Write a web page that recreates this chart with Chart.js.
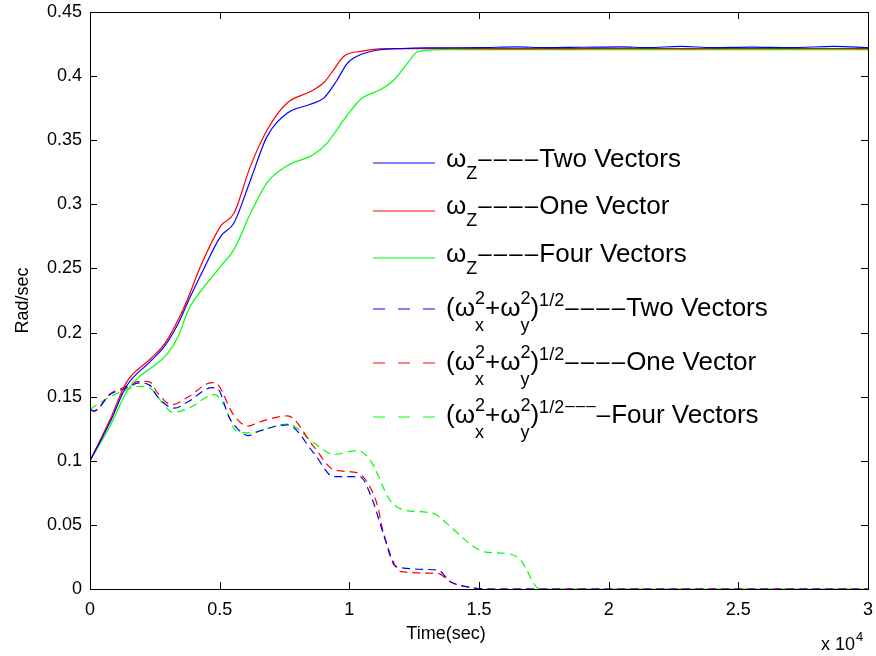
<!DOCTYPE html>
<html>
<head>
<meta charset="utf-8">
<script src="https://cdn.jsdelivr.net/npm/chart.js@4.4.1/dist/chart.umd.min.js"></script>
<style>
  html, body { margin: 0; padding: 0; background: #fff; }
  #wrap { width: 876px; height: 656px; position: relative; }
</style>
</head>
<body>
<div id="wrap"><canvas id="chart" width="876" height="656"></canvas></div>
<script>
// time in seconds, values in rad/sec
const tWzTwo = [0, 770, 1400, 2300, 2900, 3400, 3800, 4300, 5040, 5550, 6190, 6830, 7600, 8500, 9020, 9530, 9920, 10440, 11200, 12000, 13000, 15000, 16500, 17500, 19000, 20500, 21500, 22800, 24000, 25500, 27000, 28700, 30000];
const wzTwo = [0.100, 0.130, 0.158, 0.177, 0.190, 0.207, 0.225, 0.246, 0.275, 0.2855, 0.319, 0.353, 0.371, 0.378, 0.383, 0.397, 0.410, 0.4168, 0.4206, 0.4215, 0.4220, 0.4222, 0.4228, 0.4222, 0.4225, 0.4228, 0.4222, 0.4232, 0.4222, 0.4226, 0.4222, 0.4232, 0.4222];

const tWzOne = [0, 770, 1400, 2300, 2900, 3400, 3800, 4260, 5040, 5550, 6190, 6830, 7600, 8500, 9020, 9400, 9790, 10440, 11200, 14000, 17000, 20000, 23000, 26000, 30000];
const wzOne = [0.100, 0.132, 0.161, 0.179, 0.192, 0.210, 0.228, 0.2516, 0.283, 0.293, 0.330, 0.358, 0.379, 0.388, 0.395, 0.405, 0.4155, 0.4193, 0.4213, 0.4216, 0.4214, 0.4216, 0.4215, 0.4216, 0.4215];

const tWzFour = [0, 770, 1480, 3000, 3400, 3800, 4260, 5040, 5550, 6190, 6830, 7600, 8630, 9150, 9790, 10440, 11200, 11720, 12240, 12630, 13500, 16000, 19000, 22000, 25000, 30000];
const wzFour = [0.100, 0.127, 0.156, 0.184, 0.197, 0.218, 0.232, 0.2516, 0.2647, 0.293, 0.317, 0.330, 0.339, 0.348, 0.366, 0.382, 0.3895, 0.397, 0.410, 0.419, 0.4207, 0.4206, 0.4207, 0.4206, 0.4207, 0.4206];

const tWxyTwo = [0, 150, 770, 1400, 1900, 2300, 2600, 3250, 3800, 4700, 4950, 5350, 5600, 6100, 6500, 7620, 8630, 9400, 10400, 10900, 11300, 11800, 13400, 13900, 14800, 15200, 30000];
const wxyTwo = [0.140, 0.1386, 0.1516, 0.1568, 0.1607, 0.159, 0.150, 0.141, 0.1463, 0.157, 0.1555, 0.1346, 0.127, 0.1196, 0.123, 0.128, 0.106, 0.0876, 0.0876, 0.069, 0.0437, 0.0174, 0.0148, 0.0057, 0.0008, 0, 0];

const tWxyOne = [0, 150, 770, 1400, 1900, 2300, 2600, 3150, 3800, 4700, 4950, 5500, 6100, 6500, 7620, 8630, 9400, 10300, 10700, 11100, 11300, 12000, 13400, 13900, 14800, 15200, 30000];
const wxyOne = [0.140, 0.139, 0.152, 0.158, 0.162, 0.1615, 0.153, 0.1437, 0.150, 0.161, 0.159, 0.137, 0.127, 0.130, 0.135, 0.111, 0.093, 0.0907, 0.083, 0.064, 0.045, 0.0135, 0.0122, 0.0055, 0.0008, 0, 0];

const tWxyFour = [0, 770, 1230, 1900, 2300, 2760, 3200, 3800, 4800, 5200, 5600, 6100, 7620, 8630, 9400, 10300, 10800, 11580, 12100, 13250, 13600, 14800, 15200, 16200, 16600, 17350, 30000];
const wxyFour = [0.140, 0.150, 0.154, 0.158, 0.1568, 0.146, 0.1378, 0.141, 0.1516, 0.1425, 0.124, 0.1217, 0.1287, 0.114, 0.105, 0.108, 0.1006, 0.069, 0.0616, 0.059, 0.0538, 0.033, 0.029, 0.0273, 0.0226, 0, 0];

const xTicks = [0, 0.5, 1, 1.5, 2, 2.5, 3];
const yTicks = ['0', '0.05', '0.1', '0.15', '0.2', '0.25', '0.3', '0.35', '0.4', '0.45'];

// rich legend text: plain, sub, sup, stacked sup/sub, or a run of dashes (d)
const wxy = [{ t: '(ω' }, { sup: '2', sub: 'x' }, { t: '+ω' }, { sup: '2', sub: 'y' }, { t: ')' }];
const legendRows = [
  [{ t: 'ω' }, { sub: 'Z' }, { d: 4 }, { t: 'Two Vectors' }],
  [{ t: 'ω' }, { sub: 'Z' }, { d: 4 }, { t: 'One Vector' }],
  [{ t: 'ω' }, { sub: 'Z' }, { d: 4 }, { t: 'Four Vectors' }],
  wxy.concat([{ sup: '1/2' }, { d: 4 }, { t: 'Two Vectors' }]),
  wxy.concat([{ sup: '1/2' }, { d: 4 }, { t: 'One Vector' }]),
  wxy.concat([{ sup: '1/2' }, { sd: 3 }, { d: 1 }, { t: 'Four Vectors' }])
];

const FONT = '"Liberation Sans", Arial, Helvetica, sans-serif';

function pts(ts, vs) {
  return ts.map((t, i) => ({ x: t, y: vs[i] }));
}

function line(label, ts, vs, color, dashed) {
  return {
    label: label,
    data: pts(ts, vs),
    borderColor: color,
    borderWidth: 1.2,
    borderDash: dashed ? [8, 5] : [],
    pointRadius: 0,
    fill: false,
    cubicInterpolationMode: 'monotone'
  };
}

const datasets = [
  line('wz two', tWzTwo, wzTwo, '#0000ff', false),
  line('wz one', tWzOne, wzOne, '#ff0000', false),
  line('wz four', tWzFour, wzFour, '#00ff00', false),
  line('wxy two', tWxyTwo, wxyTwo, '#0000ff', true),
  line('wxy one', tWxyOne, wxyOne, '#ff0000', true),
  line('wxy four', tWxyFour, wxyFour, '#00ff00', true)
];

// box, inward ticks, axis titles and the rich legend
const matlabLook = {
  id: 'matlabLook',
  afterDraw(chart) {
    const ctx = chart.ctx;
    const a = chart.chartArea;
    const xs = chart.scales.x, ys = chart.scales.y;
    ctx.save();
    ctx.strokeStyle = '#000';
    ctx.lineWidth = 1;
    ctx.setLineDash([]);
    ctx.strokeRect(Math.round(a.left) + 0.5, Math.round(a.top) + 0.5,
      Math.round(a.right - a.left), Math.round(a.bottom - a.top));
    const tl = 7;
    ctx.beginPath();
    xTicks.forEach(v => {
      const px = Math.round(xs.getPixelForValue(v * 1e4)) + 0.5;
      ctx.moveTo(px, a.bottom); ctx.lineTo(px, a.bottom - tl);
      ctx.moveTo(px, a.top); ctx.lineTo(px, a.top + tl);
    });
    yTicks.forEach(s => {
      const py = Math.round(ys.getPixelForValue(parseFloat(s))) + 0.5;
      ctx.moveTo(a.left, py); ctx.lineTo(a.left + tl, py);
      ctx.moveTo(a.right, py); ctx.lineTo(a.right - tl, py);
    });
    ctx.stroke();

    ctx.fillStyle = '#000';
    ctx.font = '18px ' + FONT;
    ctx.textAlign = 'center';
    ctx.textBaseline = 'alphabetic';
    ctx.fillText('Time(sec)', 446, 639);
    ctx.save();
    ctx.translate(28, (a.top + a.bottom) / 2);
    ctx.rotate(-Math.PI / 2);
    ctx.fillText('Rad/sec', 0, 0);
    ctx.restore();
    ctx.textAlign = 'left';
    ctx.fillText('x 10', 821, 650);
    const w10 = ctx.measureText('x 10').width;
    ctx.font = '13px ' + FONT;
    ctx.fillText('4', 821 + w10 + 1, 641);

    // legend
    const lineY = [163, 211, 258, 309, 363, 417];
    const baseY = [167, 214, 262, 316, 370, 423];
    legendRows.forEach((row, i) => {
      const ds = chart.data.datasets[i];
      ctx.strokeStyle = ds.borderColor;
      ctx.lineWidth = 1.2;
      ctx.setLineDash(ds.borderDash.length ? [12, 13] : []);
      ctx.beginPath();
      ctx.moveTo(373, lineY[i]);
      ctx.lineTo(435, lineY[i]);
      ctx.stroke();
      ctx.setLineDash([]);
      let x = 446;
      const b = baseY[i];
      row.forEach(seg => {
        if (seg.t) {
          ctx.font = '26px ' + FONT;
          ctx.fillText(seg.t, x, b);
          x += ctx.measureText(seg.t).width;
        } else if (seg.d || seg.sd) {
          // MATLAB-style separated dashes
          const n = seg.d || seg.sd;
          const small = !!seg.sd;
          ctx.font = (small ? '17px ' : '24px ') + FONT;
          for (let k = 0; k < n; k++) {
            ctx.fillText('–', x + 1, small ? b - 12 : b - 1);
            x += small ? 10.5 : 15.5;
          }
        } else if (seg.sup && seg.sub) {
          ctx.font = '18px ' + FONT;
          ctx.fillText(seg.sup, x, b - 12);
          ctx.fillText(seg.sub, x, b + 15);
          x += Math.max(ctx.measureText(seg.sup).width, ctx.measureText(seg.sub).width);
        } else if (seg.sub) {
          ctx.font = '18px ' + FONT;
          ctx.fillText(seg.sub, x, b + 12);
          x += ctx.measureText(seg.sub).width;
        } else if (seg.sup) {
          ctx.font = '18px ' + FONT;
          ctx.fillText(seg.sup, x, b - 10);
          x += ctx.measureText(seg.sup).width;
        }
      });
    });
    ctx.restore();
  }
};

new Chart(document.getElementById('chart'), {
  type: 'line',
  data: { datasets: datasets },
  options: {
    responsive: false,
    animation: false,
    layout: { padding: { left: 0, right: 8, top: 12, bottom: 0 } },
    plugins: { legend: { display: false }, tooltip: { enabled: false } },
    scales: {
      x: {
        type: 'linear',
        min: 0,
        max: 30000,
        afterBuildTicks: s => { s.ticks = xTicks.map(v => ({ value: v * 1e4 })); },
        afterFit: s => { s.height = 67; s.paddingLeft = 0; s.paddingRight = 0; },
        grid: { display: false, tickLength: 0 },
        border: { display: false },
        ticks: {
          color: '#000',
          font: { family: FONT, size: 18 },
          padding: 10,
          maxRotation: 0,
          callback: v => String(v / 1e4)
        }
      },
      y: {
        min: 0,
        max: 0.45,
        afterBuildTicks: s => { s.ticks = yTicks.map(v => ({ value: parseFloat(v) })); },
        afterFit: s => { s.width = 90; s.paddingTop = 0; s.paddingBottom = 0; },
        grid: { display: false, tickLength: 0 },
        border: { display: false },
        ticks: {
          color: '#000',
          font: { family: FONT, size: 18 },
          padding: 8,
          callback: (v, i) => yTicks[i]
        }
      }
    }
  },
  plugins: [matlabLook]
});
</script>
</body>
</html>
